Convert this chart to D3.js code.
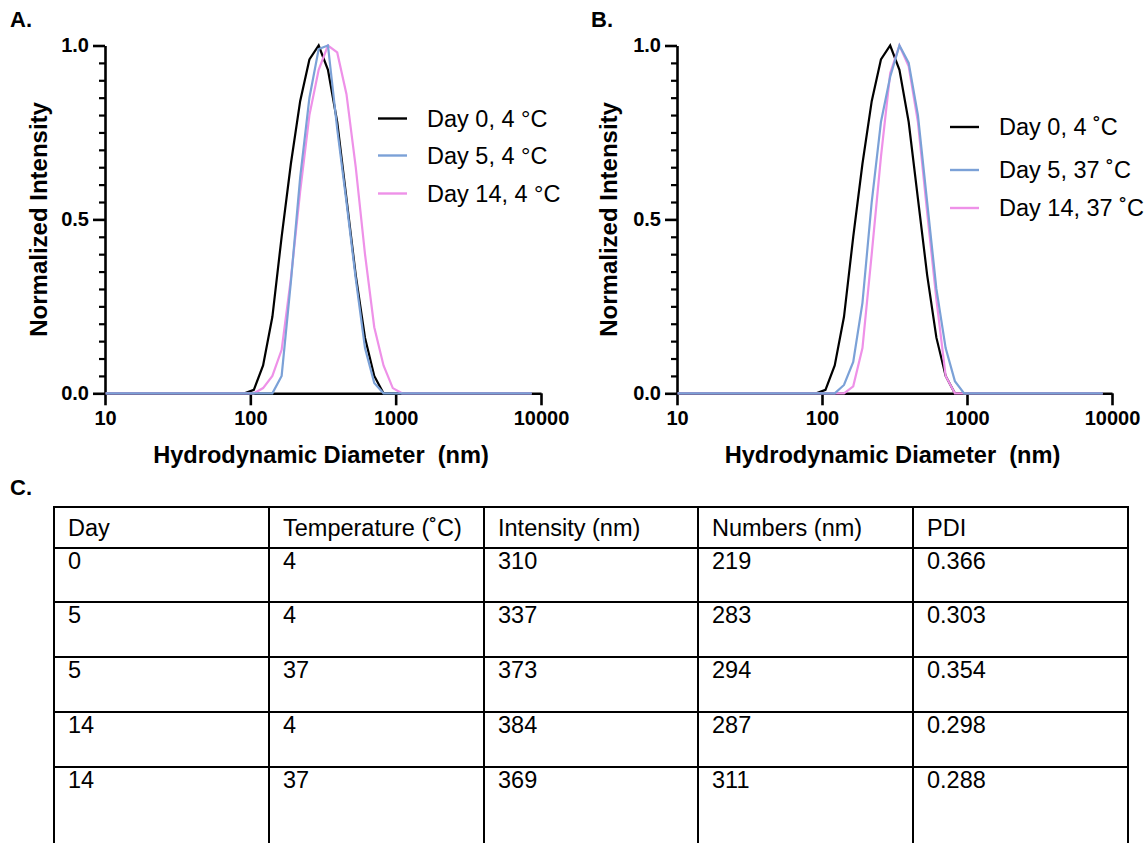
<!DOCTYPE html>
<html>
<head>
<meta charset="utf-8">
<script src="https://cdn.jsdelivr.net/npm/d3@7"></script>
<style>
  html, body { margin: 0; padding: 0; background: #fff; }
  svg { display: block; font-family: Arial, "Liberation Sans", sans-serif; }
  text { white-space: pre; }
</style>
</head>
<body>
<svg id="fig" width="1147" height="843"></svg>
<script>
// DLS size bins (nm) and normalized intensities
var sizes = [10.1, 91.28, 105.7, 122.4, 141.8, 164.2, 190.1, 220.2, 255.0, 295.3, 342.0,
             396.1, 458.7, 531.2, 615.1, 712.4, 825.0, 955.4, 1106, 1281, 8635];

var day0_4C   = [0, 0, 0.01, 0.08, 0.22, 0.45, 0.66, 0.84, 0.96, 1.00, 0.93, 0.78, 0.56, 0.34, 0.16, 0.05, 0, 0, 0, 0, 0];
var day5_4C   = [0, 0, 0, 0, 0, 0.05, 0.32, 0.62, 0.85, 0.99, 1.00, 0.76, 0.55, 0.33, 0.13, 0.03, 0, 0, 0, 0, 0];
var day14_4C  = [0, 0, 0, 0.015, 0.05, 0.125, 0.33, 0.58, 0.80, 0.93, 1.00, 0.98, 0.86, 0.65, 0.40, 0.19, 0.08, 0.015, 0, 0, 0];
var day5_37C  = [0, 0, 0, 0, 0.024, 0.09, 0.26, 0.55, 0.78, 0.91, 1.00, 0.95, 0.80, 0.55, 0.30, 0.13, 0.035, 0, 0, 0, 0];
var day14_37C = [0, 0, 0, 0, 0, 0.02, 0.13, 0.40, 0.68, 0.92, 1.00, 0.94, 0.78, 0.52, 0.27, 0.05, 0, 0, 0, 0, 0];

var xTicks = [10, 100, 1000, 10000];
var yTicks = [0, 0.5, 1.0];

var legendA = ['Day 0, 4 \u00B0C', 'Day 5, 4 \u00B0C', 'Day 14, 4 \u00B0C'];
var legendB = ['Day 0, 4 \u02DAC', 'Day 5, 37 \u02DAC', 'Day 14, 37 \u02DAC'];

var tableHeader = ['Day', 'Temperature (\u02DAC)', 'Intensity (nm)', 'Numbers (nm)', 'PDI'];
var tableDay    = ['0', '5', '5', '14', '14'];
var tableTemp   = ['4', '4', '37', '4', '37'];
var tableInt    = ['310', '337', '373', '384', '369'];
var tableNum    = ['219', '283', '294', '287', '311'];
var tablePDI    = ['0.366', '0.303', '0.354', '0.298', '0.288'];

var colors = { black: '#000000', blue: '#7ba1d7', pink: '#ee91e8' };

var svg = d3.select('#fig');

function drawPanel(opt) {
	var x = d3.scaleLog().domain([10, 10000]).range([opt.left, opt.right]);
	var y = d3.scaleLinear().domain([0, 1]).range([opt.bottom, opt.top]);
	var g = svg.append('g');

	// minor y ticks every 0.05
	var minor = d3.range(1, 20).map(function(i) { return i / 20; })
		.filter(function(v) { return Math.abs(v - 0.5) > 1e-6; });
	g.append('g')
		.attr('transform', 'translate(' + opt.left + ',0)')
		.call(d3.axisLeft(y).tickValues(minor).tickSize(6).tickSizeOuter(0).tickFormat(''))
		.call(function(a) { a.select('.domain').remove(); a.selectAll('line').attr('stroke-width', 2.2); });

	var yAxis = g.append('g')
		.attr('transform', 'translate(' + opt.left + ',0)')
		.call(d3.axisLeft(y).tickValues(yTicks).tickSize(12).tickSizeOuter(0).tickPadding(4).tickFormat(d3.format('.1f')));
	var xAxis = g.append('g')
		.attr('transform', 'translate(0,' + opt.bottom + ')')
		.call(d3.axisBottom(x).tickValues(xTicks).tickSize(12).tickSizeOuter(0).tickPadding(6).tickFormat(d3.format('d')));

	[yAxis, xAxis].forEach(function(a) {
		a.select('.domain').attr('stroke-width', 2.6).attr('stroke', '#000');
		a.selectAll('line').attr('stroke-width', 2.6).attr('stroke', '#000');
		a.selectAll('text').attr('font-size', 20).attr('font-weight', 'bold')
			.attr('fill', '#000').attr('font-family', 'Arial, "Liberation Sans", sans-serif');
	});

	var line = d3.line()
		.x(function(d) { return x(d[0]); })
		.y(function(d) { return y(d[1]); });

	opt.series.forEach(function(s) {
		g.append('path')
			.datum(sizes.map(function(v, i) { return [v, s.values[i]]; }))
			.attr('d', line)
			.attr('fill', 'none')
			.attr('stroke', s.color)
			.attr('stroke-width', 2.2)
			.attr('stroke-linejoin', 'miter');
	});

	// legend
	opt.legend.forEach(function(label, i) {
		var ly = opt.legendY[i];
		g.append('line')
			.attr('x1', opt.legendX).attr('x2', opt.legendX + 29)
			.attr('y1', ly).attr('y2', ly)
			.attr('stroke', opt.legendColors[i]).attr('stroke-width', 2.4);
		g.append('text')
			.attr('x', opt.legendX + 49).attr('y', ly + 8)
			.attr('font-size', 23.5).text(label);
	});

	g.append('text')
		.attr('transform', 'translate(' + opt.ytitleX + ',' + (opt.top + opt.bottom) / 2 + ') rotate(-90)')
		.attr('text-anchor', 'middle').attr('font-size', 24).attr('font-weight', 'bold')
		.text('Normalized Intensity');

	g.append('text')
		.attr('x', (opt.left + opt.right) / 2 - 2).attr('y', 463)
		.attr('text-anchor', 'middle').attr('font-size', 23.6).attr('font-weight', 'bold')
		.text('Hydrodynamic Diameter  (nm)');

	g.append('text')
		.attr('x', opt.labelX).attr('y', 27)
		.attr('font-size', 22).attr('font-weight', 'bold')
		.text(opt.label);
}

drawPanel({
	label: 'A.', labelX: 10,
	left: 105, right: 541, top: 45.5, bottom: 393.3, ytitleX: 47,
	series: [
		{ values: day0_4C, color: colors.black },
		{ values: day14_4C, color: colors.pink },
		{ values: day5_4C, color: colors.blue }
	],
	legend: legendA, legendX: 378, legendY: [118.5, 155.5, 193.5],
	legendColors: [colors.black, colors.blue, colors.pink]
});

drawPanel({
	label: 'B.', labelX: 591,
	left: 677, right: 1112, top: 45.5, bottom: 393.3, ytitleX: 617,
	series: [
		{ values: day0_4C, color: colors.black },
		{ values: day14_37C, color: colors.pink },
		{ values: day5_37C, color: colors.blue }
	],
	legend: legendB, legendX: 950, legendY: [127, 170, 208],
	legendColors: [colors.black, colors.blue, colors.pink]
});

// C. summary table
svg.append('text').attr('x', 10).attr('y', 495)
	.attr('font-size', 22).attr('font-weight', 'bold').text('C.');

var colEdges = [54, 269, 484, 698, 913, 1128];
var rowEdges = [507, 548, 602, 657, 712, 767, 843];
var cols = [tableDay, tableTemp, tableInt, tableNum, tablePDI];

var tg = svg.append('g');
// horizontal rules (the last row runs off the bottom of the image)
rowEdges.slice(0, -1).forEach(function(yy) {
	tg.append('line').attr('x1', colEdges[0] - 1).attr('x2', colEdges[5] + 1)
		.attr('y1', yy).attr('y2', yy).attr('stroke', '#000').attr('stroke-width', 2);
});
colEdges.forEach(function(xx) {
	tg.append('line').attr('x1', xx).attr('x2', xx)
		.attr('y1', rowEdges[0]).attr('y2', 843).attr('stroke', '#000').attr('stroke-width', 2);
});

tableHeader.forEach(function(h, c) {
	tg.append('text').attr('x', colEdges[c] + 14).attr('y', 536)
		.attr('font-size', 23.5).text(h);
});
cols.forEach(function(col, c) {
	col.forEach(function(v, r) {
		tg.append('text').attr('x', colEdges[c] + 14).attr('y', rowEdges[r + 1] + 21)
			.attr('font-size', 23.5).text(v);
	});
});
</script>
</body>
</html>
